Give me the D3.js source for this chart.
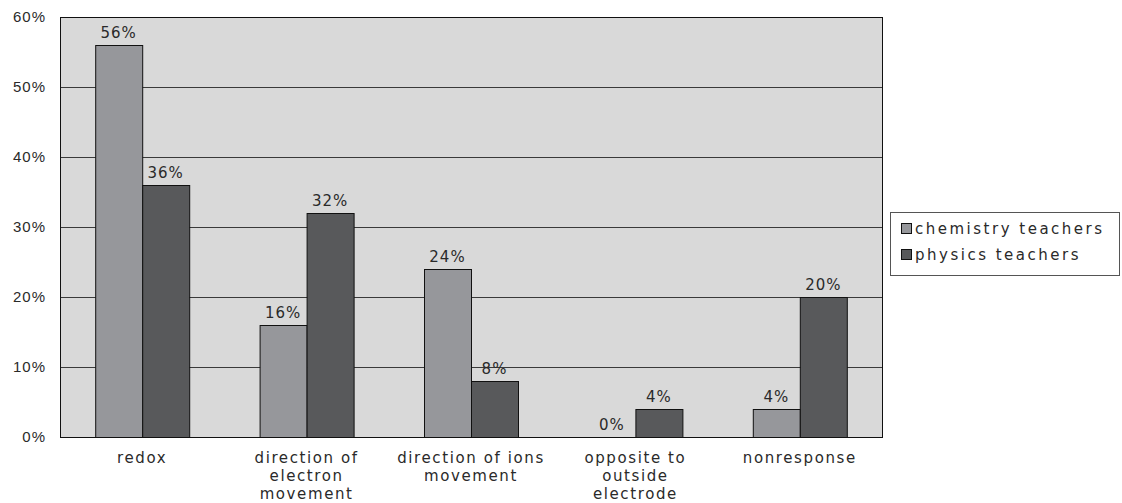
<!DOCTYPE html>
<html>
<head>
<meta charset="utf-8">
<script src="https://cdn.jsdelivr.net/npm/d3@7"></script>
<style>
  body { margin: 0; background: #fff; }
  svg { font-family: "DejaVu Sans", sans-serif; }
  .tick text { font-size: 15px; letter-spacing: 1px; fill: #2a2a2a; }
  .cat { font-size: 15px; letter-spacing: 1.6px; fill: #2a2a2a; }
  .val { font-size: 15px; letter-spacing: 1px; fill: #2a2a2a; }
  .leg { font-size: 15px; letter-spacing: 2.5px; fill: #2a2a2a; }
</style>
</head>
<body>
<div id="chart"></div>
<script>
  // data
  const categories = [
    ["redox"],
    ["direction of", "electron", "movement"],
    ["direction of ions", "movement"],
    ["opposite to", "outside", "electrode"],
    ["nonresponse"]
  ];
  const seriesNames = ["chemistry teachers", "physics teachers"];
  const chemistry = [56, 16, 24, 0, 4];
  const physics = [36, 32, 8, 4, 20];
  const yTicks = [0, 10, 20, 30, 40, 50, 60];
  const colors = ["#96979b", "#58595b"];

  const width = 1122, height = 503;
  const margin = { top: 17, left: 60, right: 240, bottom: 66 };

  const svg = d3.select("#chart").append("svg")
    .attr("width", width).attr("height", height);

  const x = d3.scaleBand()
    .domain(d3.range(categories.length))
    .range([margin.left, width - margin.right])
    .padding(0);
  const y = d3.scaleLinear()
    .domain([0, 60])
    .range([height - margin.bottom, margin.top]);
  const barW = 47;

  // plot background
  svg.append("rect")
    .attr("x", margin.left).attr("y", margin.top)
    .attr("width", x.range()[1] - margin.left)
    .attr("height", y(0) - margin.top)
    .attr("fill", "#d9d9d9");

  // gridlines
  svg.append("g").selectAll("line")
    .data(yTicks.filter(d => d > 0 && d < 60))
    .join("line")
    .attr("x1", margin.left).attr("x2", x.range()[1])
    .attr("y1", d => y(d) + 0.5).attr("y2", d => y(d) + 0.5)
    .attr("stroke", "#3a3a3a").attr("stroke-width", 1);

  // y axis
  const yaxis = d3.axisLeft(y).tickValues(yTicks).tickFormat(d => d + "%").tickSize(0).tickPadding(14);
  svg.append("g")
    .attr("transform", `translate(${margin.left},0)`)
    .call(yaxis)
    .call(g => g.select(".domain").remove())
    .call(g => g.selectAll(".tick text").attr("font-family", null).attr("font-size", null));

  // bars
  const series = [chemistry, physics];
  series.forEach((vals, si) => {
    const g = svg.append("g");
    g.selectAll("rect")
      .data(vals)
      .join("rect")
      .attr("x", (d, i) => x(i) + x.bandwidth() / 2 - barW + si * barW + 0.5)
      .attr("y", d => y(d) + 0.5)
      .attr("width", barW)
      .attr("height", d => y(0) - y(d))
      .attr("fill", colors[si])
      .attr("stroke", "#111")
      .attr("stroke-width", 1)
      .attr("display", d => d === 0 ? "none" : null);
    g.selectAll("text")
      .data(vals)
      .join("text")
      .attr("class", "val")
      .attr("x", (d, i) => x(i) + x.bandwidth() / 2 - barW / 2 + si * barW)
      .attr("y", d => y(d) - 7)
      .attr("text-anchor", "middle")
      .text(d => d + "%");
  });

  // plot frame
  svg.append("rect")
    .attr("x", margin.left + 0.5).attr("y", margin.top + 0.5)
    .attr("width", x.range()[1] - margin.left)
    .attr("height", y(0) - margin.top)
    .attr("fill", "none").attr("stroke", "#111");

  // category labels
  svg.append("g").selectAll("text")
    .data(categories)
    .join("text")
    .attr("class", "cat")
    .attr("text-anchor", "middle")
    .attr("transform", (d, i) => `translate(${x(i) + x.bandwidth() / 2},${y(0) + 26})`)
    .selectAll("tspan")
    .data(d => d)
    .join("tspan")
    .attr("x", 0)
    .attr("y", (d, i) => i * 18)
    .text(d => d);

  // legend
  const leg = svg.append("g").attr("transform", "translate(890,212)");
  leg.append("rect")
    .attr("x", 0.5).attr("y", 0.5).attr("width", 229).attr("height", 63)
    .attr("fill", "#fff").attr("stroke", "#555");
  const li = leg.selectAll("g.item")
    .data(seriesNames)
    .join("g")
    .attr("class", "item")
    .attr("transform", (d, i) => `translate(11,${17 + i * 26})`);
  li.append("rect")
    .attr("x", 0.5).attr("y", -5.5).attr("width", 10).attr("height", 10)
    .attr("fill", (d, i) => colors[i]).attr("stroke", "#111");
  li.append("text")
    .attr("class", "leg")
    .attr("x", 14).attr("y", 5)
    .text(d => d);
</script>
</body>
</html>
